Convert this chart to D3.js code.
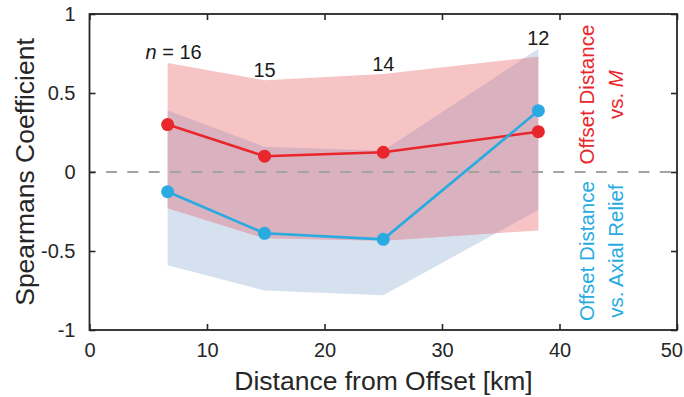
<!DOCTYPE html>
<html>
<head>
<meta charset="utf-8">
<script src="https://cdn.jsdelivr.net/npm/d3@7/dist/d3.min.js"></script>
<style>
  html, body { margin: 0; padding: 0; background: #fff; }
  svg { display: block; font-family: "Liberation Sans", Arial, Helvetica, sans-serif; }
</style>
</head>
<body>
<svg id="chart" width="684" height="397"></svg>
<script>
// Window centres along the profile (km) and sample counts per window
const distance = [6.65, 14.9, 25.0, 38.2];
const sampleCount = [16, 15, 14, 12];

// Offset distance vs. M: Spearman coefficient and confidence band
const magCoef = [0.30, 0.10, 0.125, 0.255];
const magLow  = [-0.23, -0.42, -0.435, -0.37];
const magHigh = [0.69, 0.58, 0.62, 0.73];

// Offset distance vs. axial relief: Spearman coefficient and confidence band
const reliefCoef = [-0.125, -0.388, -0.426, 0.388];
const reliefLow  = [-0.59, -0.75, -0.78, -0.24];
const reliefHigh = [0.39, 0.16, 0.135, 0.78];

// Axis ticks
const xTicks = [0, 10, 20, 30, 40, 50];
const yTicks = [-1, -0.5, 0, 0.5, 1];

const svg = d3.select("#chart");
const plotLeft = 89.5, plotRight = 677, plotTop = 14, plotBottom = 330;

const x = d3.scaleLinear().domain([0, 50]).range([plotLeft, plotRight]);
const y = d3.scaleLinear().domain([-1, 1]).range([plotBottom, plotTop]);

const axisColor = "#262626";
const redLine = "#e8262b", blueLine = "#29abe2";
const redBand = "#f6c4c5", blueBand = "#d5e1ef", bothBand = "#d9b1bf";

const mag = distance.map((d, i) => ({ x: d, v: magCoef[i], lo: magLow[i], hi: magHigh[i] }));
const relief = distance.map((d, i) => ({ x: d, v: reliefCoef[i], lo: reliefLow[i], hi: reliefHigh[i] }));

const band = d3.area().x(d => x(d.x)).y0(d => y(d.lo)).y1(d => y(d.hi));
const line = d3.line().x(d => x(d.x)).y(d => y(d.v));

// Confidence bands: relief, magnitude, and their overlap
svg.append("defs").append("clipPath").attr("id", "reliefClip")
  .append("path").attr("d", band(relief));

svg.append("path").attr("d", band(relief)).attr("fill", blueBand);
svg.append("path").attr("d", band(mag)).attr("fill", redBand);
svg.append("path").attr("d", band(mag)).attr("fill", bothBand).attr("clip-path", "url(#reliefClip)");

// Zero reference line
svg.append("line")
  .attr("x1", x(0)).attr("x2", x(50))
  .attr("y1", y(0)).attr("y2", y(0))
  .attr("stroke", "#a3a3a3").attr("stroke-width", 1.8)
  .attr("stroke-dasharray", "11,10.3").attr("stroke-dashoffset", 4.8);

// Coefficient series
function series(data, color) {
  svg.append("path").attr("d", line(data))
    .attr("fill", "none").attr("stroke", color).attr("stroke-width", 2.6);
  svg.append("g").selectAll("circle").data(data).join("circle")
    .attr("cx", d => x(d.x)).attr("cy", d => y(d.v)).attr("r", 6.5)
    .attr("fill", color);
}
series(mag, redLine);
series(relief, blueLine);

// Sample counts above each window
svg.append("g").selectAll("text").data(distance).join("text")
  .attr("x", (d, i) => x(d) + (i === 0 ? 6 : 0))
  .attr("y", (d, i) => y(Math.max(magHigh[i], reliefHigh[i])) - 3.5)
  .attr("text-anchor", "middle")
  .attr("font-size", 20).attr("fill", "#1a1a1a")
  .each(function (d, i) {
    const t = d3.select(this);
    if (i === 0) {
      t.append("tspan").attr("font-style", "italic").text("n");
      t.append("tspan").text(" = " + sampleCount[i]);
    } else {
      t.text(sampleCount[i]);
    }
  });

// Axes: inward ticks on all four sides
const plain = d => String(d);
const gx = svg.append("g").attr("transform", `translate(0,${plotBottom})`)
  .call(d3.axisBottom(x).tickValues(xTicks).tickSizeInner(-6).tickSizeOuter(0).tickPadding(13).tickFormat(plain));
const gxTop = svg.append("g").attr("transform", `translate(0,${plotTop})`)
  .call(d3.axisTop(x).tickValues(xTicks).tickSizeInner(-6).tickSizeOuter(0).tickFormat(""));
const gy = svg.append("g").attr("transform", `translate(${plotLeft},0)`)
  .call(d3.axisLeft(y).tickValues(yTicks).tickSizeInner(-6).tickSizeOuter(0).tickPadding(14).tickFormat(plain));
const gyRight = svg.append("g").attr("transform", `translate(${plotRight},0)`)
  .call(d3.axisRight(y).tickValues(yTicks).tickSizeInner(-6).tickSizeOuter(0).tickFormat(""));

[gx, gxTop, gy, gyRight].forEach(g => {
  g.select(".domain").remove();
  g.selectAll(".tick line").attr("stroke", axisColor).attr("stroke-width", 1.6);
  g.selectAll(".tick text").attr("fill", axisColor).attr("font-size", 20)
    .attr("font-family", "Liberation Sans, Arial, sans-serif");
});
// keep the last x label inside the page edge
gx.selectAll(".tick text").filter(d => d === xTicks[xTicks.length - 1])
  .attr("text-anchor", "end").attr("dx", 5.5);

svg.append("rect")
  .attr("x", plotLeft).attr("y", plotTop)
  .attr("width", plotRight - plotLeft).attr("height", plotBottom - plotTop)
  .attr("fill", "none").attr("stroke", axisColor).attr("stroke-width", 1.8);

// Axis titles
svg.append("text")
  .attr("x", 383.5).attr("y", 390)
  .attr("text-anchor", "middle").attr("font-size", 26.5).attr("fill", axisColor)
  .text("Distance from Offset [km]");

svg.append("text")
  .attr("transform", `translate(33.5,${(plotTop + plotBottom) / 2}) rotate(-90)`)
  .attr("text-anchor", "middle").attr("font-size", 26.5).attr("fill", axisColor)
  .text("Spearmans Coefficient");

// Series labels, written vertically inside the plot
function sideLabel(cy, color, lines) {
  lines.forEach((parts, k) => {
    const t = svg.append("text")
      .attr("transform", `translate(${594 + k * 29},${cy}) rotate(-90)`)
      .attr("text-anchor", "middle").attr("font-size", 20.5).attr("fill", color);
    parts.forEach(p => {
      const s = t.append("tspan").text(p.text);
      if (p.italic) s.attr("font-style", "italic");
    });
  });
}
sideLabel(y(0.49), redLine, [[{ text: "Offset Distance" }], [{ text: "vs. " }, { text: "M", italic: true }]]);
sideLabel(y(-0.5), blueLine, [[{ text: "Offset Distance" }], [{ text: "vs. Axial Relief" }]]);
</script>
</body>
</html>
